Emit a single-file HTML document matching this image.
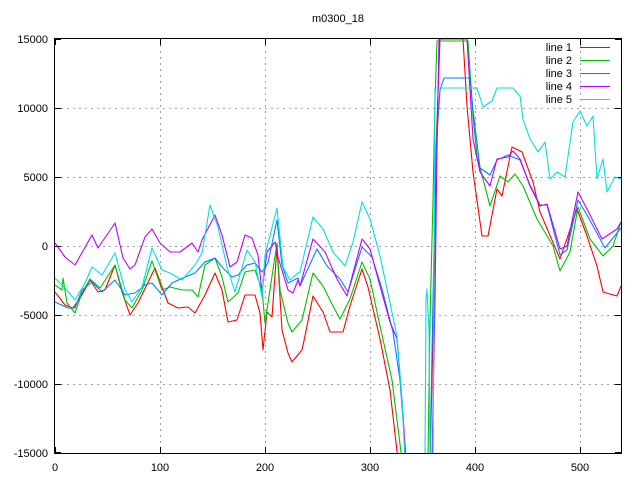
<!DOCTYPE html>
<html><head><meta charset="utf-8"><style>
html,body{margin:0;padding:0;background:#fff;}
svg{display:block;font-family:"Liberation Sans",sans-serif;font-size:11px;}
</style></head><body>
<svg width="640" height="480" viewBox="0 0 640 480" xmlns="http://www.w3.org/2000/svg">
<defs><clipPath id="c"><rect x="55" y="39" width="566" height="414"/></clipPath></defs>
<rect width="640" height="480" fill="#fff"/>
<g stroke="#a0a0a0" stroke-width="1" stroke-dasharray="2,4" fill="none">
<path d="M160.5 39V453M265.5 39V453M370.5 39V453M475.5 39V453M580.5 39V453"/>
<path d="M55 108.5H621M55 177.5H621M55 246.5H621M55 315.5H621M55 384.5H621"/>
</g>
<g stroke="#000" stroke-width="1">
<path d="M55.5 39v6M55.5 453v-6M160.5 39v6M160.5 453v-6M265.5 39v6M265.5 453v-6M370.5 39v6M370.5 453v-6M475.5 39v6M475.5 453v-6M580.5 39v6M580.5 453v-6"/>
<path d="M55 39.5h6M621 39.5h-6M55 108.5h6M621 108.5h-6M55 177.5h6M621 177.5h-6M55 246.5h6M621 246.5h-6M55 315.5h6M621 315.5h-6M55 384.5h6M621 384.5h-6M55 452.5h6M621 452.5h-6"/>
</g>
<g text-anchor="end" fill="#000">
<text x="48" y="43">15000</text><text x="48" y="112">10000</text><text x="48" y="181">5000</text>
<text x="48" y="250">0</text><text x="48" y="319">-5000</text><text x="48" y="388">-10000</text><text x="48" y="457">-15000</text>
</g>
<g text-anchor="middle" fill="#000">
<text x="55" y="471">0</text><text x="160" y="471">100</text><text x="265" y="471">200</text><text x="370" y="471">300</text><text x="475" y="471">400</text><text x="580" y="471">500</text>
<text x="338" y="22">m0300_18</text>
</g>
<g clip-path="url(#c)" fill="none" stroke-width="1.1" stroke-linejoin="round">
<polyline stroke="#ff0000" points="55,292 65,305 73,308 82,295 90,280 98,292 105,290 115,265 122,292 130,315 138,303 155,268 162,287 168,303 178,308 188,307 195,313 205,295 215,273 222,290 228,322 237,320 245,295 255,295 260,313 263,350 267,312 272,317 277,247 282,330 288,353 292,362 302,350 305,336 313,296 323,312 330,332 343,332 350,306 362,269 368,287 380,339 390,390 398,460 430,460 432,380 434,300 436,150 440,39 463,39 467,106 473,172 482,236 488,236 497,189 502,196 512,147 522,152 533,182 540,212 560,259 577,209 587,236 597,266 603,292 617,296 621,286"/>
<polyline stroke="#00c000" points="55,285 62,290 63,278 67,303 75,313 82,293 90,279 100,288 115,265 125,300 132,308 142,290 152,261 162,290 170,287 182,290 192,290 198,297 205,265 215,258 222,277 228,302 238,293 245,272 255,270 262,290 265,323 277,243 280,290 288,323 292,332 302,320 313,273 323,286 333,306 340,319 350,299 362,262 370,279 380,326 392,380 402,460 428,460 430,320 433,200 435,100 437,41 468,41 473,116 477,156 490,206 500,176 508,182 515,174 523,186 537,219 553,246 560,271 570,252 578,207 590,239 603,256 613,246 621,222"/>
<polyline stroke="#0080ff" points="55,302 68,308 75,308 82,290 92,282 102,292 115,280 125,295 135,293 145,285 152,283 162,295 172,283 185,277 195,273 205,262 215,258 222,267 232,277 238,275 247,265 255,263 262,272 268,263 277,220 282,265 288,283 298,278 300,286 317,249 327,266 340,279 348,292 362,247 372,257 382,289 393,332 400,380 406,460 430,460 433,300 436,150 440,90 444,78 470,78 473,110 480,168 490,175 497,160 508,155 520,160 530,185 540,205 547,205 560,255 567,250 578,200 587,215 605,248 621,228"/>
<polyline stroke="#c000ff" points="55,243 65,257 75,265 92,235 98,248 115,223 123,258 130,269 135,265 145,237 152,229 160,243 170,252 180,252 192,243 198,252 202,240 215,215 222,235 230,267 237,262 245,235 252,238 258,255 262,292 267,252 275,242 278,257 288,290 293,293 298,280 300,286 313,239 325,252 337,279 347,296 362,239 370,249 380,286 390,322 397,339 402,400 406,460 432,460 435,300 437,150 439,39 467,39 473,139 480,172 490,186 497,159 508,157 513,151 520,159 530,186 540,206 547,204 560,249 567,246 578,192 587,209 602,239 617,229 621,222"/>
<polyline stroke="#00e0e0" points="55,278 65,288 75,300 85,283 92,267 102,275 115,253 125,290 132,302 142,287 152,248 162,270 170,273 182,280 195,265 202,253 210,205 218,227 227,267 235,292 247,250 255,262 262,297 265,255 277,208 283,267 290,280 298,273 300,272 313,217 323,229 333,252 345,266 353,242 362,202 370,219 380,256 397,336 402,400 405,460 425,460 426,300 427,289 429,330 430,460 433,460 435,88 477,88 483,107 492,101 497,88 513,88 520,96 523,119 530,139 538,152 545,142 550,179 557,172 565,177 573,122 580,111 587,126 593,116 597,179 603,159 607,192 615,177 621,179"/>
</g>
<rect x="54.5" y="38.5" width="567" height="415" fill="none" stroke="#000" stroke-width="1"/>
<g text-anchor="end" fill="#000">
<text x="572" y="51">line 1</text><text x="572" y="64">line 2</text><text x="572" y="77">line 3</text><text x="572" y="90">line 4</text><text x="572" y="103">line 5</text>
</g>
<g stroke-width="1.1">
<path d="M580 47.5h30" stroke="#ff0000"/><path d="M580 60.5h30" stroke="#00c000"/><path d="M580 73.5h30" stroke="#0080ff"/><path d="M580 86.5h30" stroke="#c000ff"/><path d="M580 99.5h30" stroke="#00e0e0"/>
</g>
</svg>
</body></html>
